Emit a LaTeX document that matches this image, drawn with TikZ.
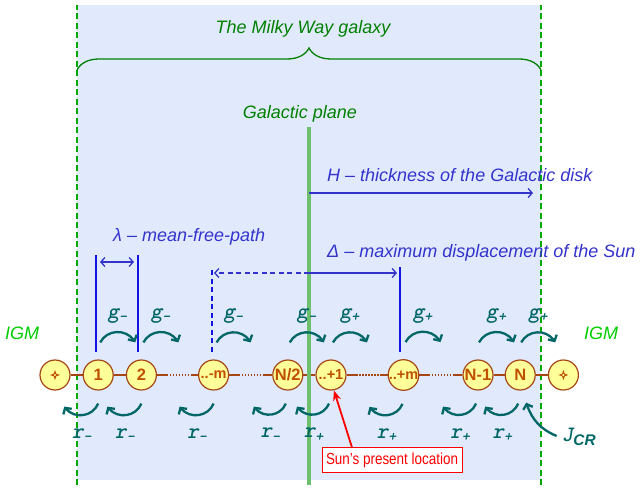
\documentclass[tikz,border=0pt]{standalone}
\usepackage{fontspec}
\setmainfont{Liberation Sans}
\setsansfont{Liberation Sans}
\setmonofont{Liberation Mono}
\newfontfamily\narrowsans[FakeStretch=0.84]{Liberation Sans}
\newfontfamily\ratefont{lmmonolt10-boldoblique.otf}
\usepackage{xcolor}
\definecolor{diskblue}{RGB}{225, 234, 253}
\definecolor{galgreen}{RGB}{0, 128, 0}
\definecolor{igmgreen}{RGB}{0, 204, 0}
\definecolor{rimgreen}{RGB}{0, 170, 0}
\definecolor{planegreen}{RGB}{110, 192, 110}
\definecolor{labelblue}{RGB}{51, 51, 204}
\definecolor{lineblue}{RGB}{20, 20, 225}
\definecolor{cellyellow}{RGB}{255, 255, 153}
\definecolor{cellbrown}{RGB}{165, 70, 20}
\definecolor{celltext}{RGB}{190, 80, 0}
\definecolor{flowteal}{RGB}{0, 102, 102}
\usepackage{tikz}
\usetikzlibrary{arrows.meta, bending, positioning, calc, decorations.pathreplacing}

\begin{document}
\begin{tikzpicture}[
    x=1pt, y=1pt,
    node distance=12pt,
    cell/.style={
        circle, draw=cellbrown, fill=cellyellow, line width=1.2pt, minimum size=30pt,
        inner sep=0pt, text=celltext, font=\fontsize{16.5}{16.5}\selectfont\bfseries
    },
    dotcell/.style={cell, font=\fontsize{14.5}{14.5}\selectfont\bfseries},
    igm/.style={
        cell, path picture={
            \fill[celltext] ($(path picture bounding box.center)+(0,5)$) -- ++(1.3,-3.7) -- ++(3.7,-1.3)
                -- ++(-3.7,-1.3) -- ++(-1.3,-3.7) -- ++(-1.3,3.7) -- ++(-3.7,1.3) -- ++(3.7,1.3) -- cycle;
            \fill[cellyellow] (path picture bounding box.center) circle (1.2);
        }
    },
    link/.style={draw=cellbrown, line width=1.4pt},
    linkgap/.style={
        link, dash pattern=on 11pt off 1.5pt on 1.5pt off 1.5pt on 1.5pt off 1.5pt on 1.5pt off 1.5pt
        on 1.5pt off 1.5pt on 1.5pt off 1.5pt on 1.5pt off 1.5pt on 1.5pt off 1.5pt on 20pt off 1pt
    },
    rim/.style={draw=rimgreen, line width=1.3pt, dash pattern=on 6pt off 3.5pt},
    galtext/.style={font=\fontsize{18}{20}\selectfont\itshape, text=galgreen},
    igmlabel/.style={font=\fontsize{18}{20}\selectfont\itshape, text=igmgreen},
    measure/.style={font=\fontsize{18}{20}\selectfont\itshape, text=labelblue, anchor=west, inner sep=0pt},
    marker/.style={draw=lineblue, line width=1.3pt},
    span/.style={draw=labelblue, line width=1.3pt, -{Straight Barb[length=4pt,width=9pt]}},
    flow/.style={draw=flowteal, line width=2.3pt, -{Straight Barb[length=4.5pt,width=10pt]}},
    hop/.style={bend left=62, looseness=1.15},
    rate/.style={font=\fontsize{22}{22}\selectfont\ratefont, text=flowteal, inner sep=1pt},
    pointer/.style={draw=red, line width=1.8pt, -{Stealth[length=10pt,width=8pt]}},
    callout/.style={
        draw=red, fill=white, line width=1pt, text=red, minimum height=24pt,
        inner xsep=4pt, font=\fontsize{16}{16}\selectfont\narrowsans
    }
]
\useasboundingbox (0,0) rectangle (642,487);

% The galaxy (disk region)
\fill[diskblue] (77,7) rectangle (541,482);
\draw[rim] (77,2) -- (77,482);
\draw[rim] (541,2) -- (541,482);
\draw[galgreen, line width=1.3pt, decorate, decoration={brace, amplitude=22pt}] (77,417) -- (541,417);
\node[galtext] (galaxy) at (303,458) {The Milky Way galaxy};
\node[galtext] (planelabel) at (300,373) {Galactic plane};

% IGM labels
\node[igmlabel] (igmL) at (22,154) {IGM};
\node[igmlabel] (igmR) at (601,154) {IGM};

% Chain of cells
\node[igm] (outL) at (55,112) {};
\node[cell, right=12pt of outL] (c1) {1};
\node[cell, right=12pt of c1] (c2) {2};
\node[dotcell, right=41pt of c2] (cm) {..-m};
\node[cell, right=43pt of cm] (chalf) {N/2};
\node[dotcell, right=12pt of chalf] (cp1) {..+1};
\node[dotcell, right=41pt of cp1] (cpm) {..+m};
\node[cell, right=43pt of cpm] (cN1) {N-1};
\node[cell, right=11pt of cN1] (cN) {N};
\node[igm, right=12pt of cN] (outR) {};

\draw[link] (outL) -- (c1);
\draw[link] (c1) -- (c2);
\draw[linkgap] (c2) -- (cm);
\draw[linkgap] (cm) -- (chalf);
\draw[link] (chalf) -- (cp1);
\draw[linkgap] (cp1) -- (cpm);
\draw[linkgap] (cpm) -- (cN1);
\draw[link] (cN1) -- (cN);
\draw[link] (cN) -- (outR);

% Galactic plane
\coordinate (planeTop) at (309,360);
\coordinate (planeBot) at (309,2);
\draw[planegreen, line width=4.5pt] (planeTop) -- (planeBot);

% Thickness H
\node[measure] (hlabel) at (327,312) {H – thickness of the Galactic disk};
\coordinate (hEnd) at (533,294);
\draw[span] (planeTop |- hEnd) -- (hEnd);

% Mean free path
\node[measure] (lamlabel) at (113,250) {λ – mean-free-path};
\draw[marker] (96,135) -- (96,232);
\draw[marker] (138,135) -- (138,232);
\draw[span, {Straight Barb[length=4pt,width=9pt]}-{Straight Barb[length=4pt,width=9pt]}] (100,225) -- (134,225);

% Displacement of the Sun
\node[measure] (dlabel) at (327,234) {Δ – maximum displacement of the Sun};
\draw[marker, dash pattern=on 5pt off 3.5pt] (212,135) -- (212,219);
\draw[marker] (400,135) -- (400,220);
\coordinate (dLeft) at (214,214);
\coordinate (dRight) at (397,214);
\draw[span, dash pattern=on 5pt off 3.5pt] (planeTop |- dLeft) -- (dLeft);
\draw[span] (planeTop |- dRight) -- (dRight);

% Forward steps g
\draw[flow] ($(c1.north)+(2,17)$) to[hop] node[rate, yshift=16pt] {g\textsubscript{–}} ++(35,0);
\draw[flow] ($(c2.north)+(2,17)$) to[hop] node[rate, yshift=16pt] {g\textsubscript{–}} ++(35,0);
\draw[flow] ($(cm.north)+(3,17)$) to[hop] node[rate, yshift=16pt] {g\textsubscript{–}} ++(34,0);
\draw[flow] ($(chalf.north)+(2,17)$) to[hop] node[rate, yshift=16pt] {g\textsubscript{–}} ++(34,0);
\draw[flow] ($(cp1.north)+(2,17)$) to[hop] node[rate, yshift=16pt] {g\textsubscript{+}} ++(34,0);
\draw[flow] ($(cpm.north)+(2,17)$) to[hop] node[rate, yshift=16pt] {g\textsubscript{+}} ++(35,0);
\draw[flow] ($(cN1.north)+(1,17)$) to[hop] node[rate, yshift=16pt] {g\textsubscript{+}} ++(35,0);
\draw[flow] ($(cN.north)+(1,17)$) to[hop] node[rate, yshift=16pt] {g\textsubscript{+}} ++(34,0);

% Backward steps r
\draw[flow] ($(c1.south)+(0,-13)$) to[hop] node[rate, yshift=-20pt] {r\textsubscript{–}} ++(-34,-3);
\draw[flow] ($(c2.south)+(0,-13)$) to[hop] node[rate, yshift=-20pt] {r\textsubscript{–}} ++(-34,-3);
\draw[flow] ($(cm.south)+(0,-13)$) to[hop] node[rate, yshift=-20pt] {r\textsubscript{–}} ++(-34,-3);
\draw[flow] ($(chalf.south)+(-2,-13)$) to[hop] node[rate, yshift=-20pt] {r\textsubscript{–}} ++(-32,-3);
\draw[flow] ($(cp1.south)+(-2,-13)$) to[hop] node[rate, yshift=-20pt] {r\textsubscript{+}} ++(-32,-3);
\draw[flow] ($(cpm.south)+(-1,-13)$) to[hop] node[rate, yshift=-20pt] {r\textsubscript{+}} ++(-33,-3);
\draw[flow] ($(cN1.south)+(-2,-13)$) to[hop] node[rate, yshift=-20pt] {r\textsubscript{+}} ++(-33,-3);
\draw[flow] ($(cN.south)+(-2,-13)$) to[hop] node[rate, yshift=-20pt] {r\textsubscript{+}} ++(-33,-3);

% Cosmic ray flux
\node[rate] (jcr) at (579,50) {J\textsubscript{\sffamily\bfseries\itshape CR}};
\draw[flow] ($(jcr.west)+(-4,1)$) to[bend left=25] ($(cN.south)+(6,-12)$);

% Sun
\node[callout] (sun) at (392,27) {Sun’s present location};
\draw[pointer] ([xshift=-40pt]sun.north) -- ([xshift=3pt]cp1.south);

\end{tikzpicture}
\end{document}
